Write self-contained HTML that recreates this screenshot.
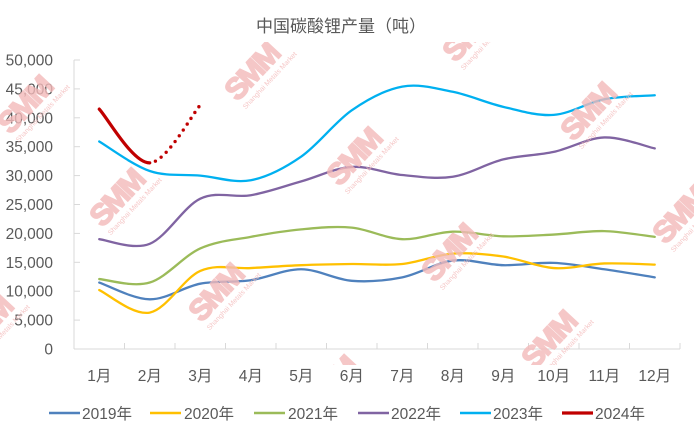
<!DOCTYPE html>
<html><head><meta charset="utf-8">
<style>
html,body{margin:0;padding:0;background:#fff;}
svg{display:block;}
text{font-family:"Liberation Sans","Noto Sans CJK SC",sans-serif;}
</style></head><body>
<svg id="c" width="694" height="433" viewBox="0 0 694 433" xmlns="http://www.w3.org/2000/svg">
<defs><clipPath id="wm"><rect x="0" y="42" width="694" height="323"/></clipPath></defs>
<rect width="694" height="433" fill="#fff"/>
<text x="341" y="32" font-size="17" fill="#595959" text-anchor="middle">中国碳酸锂产量（吨）</text>
<g id="axes" stroke="#D9D9D9" stroke-width="1" fill="none"></g>
<g id="ylab" font-size="15.5" fill="#595959" text-anchor="end"></g>
<g id="xlab" font-size="15.5" fill="#595959" text-anchor="middle"></g>
<g id="series" fill="none" stroke-linecap="round" stroke-linejoin="round"></g>
<g id="wmk" clip-path="url(#wm)" opacity="0.8"></g>
<g id="legend" font-size="15.5" fill="#595959"></g>
</svg>
<script>
(function(){
var NS="http://www.w3.org/2000/svg";
function el(tag,attrs,parent,txt){var e=document.createElementNS(NS,tag);for(var k in attrs)e.setAttribute(k,attrs[k]);if(txt!==undefined)e.textContent=txt;parent.appendChild(e);return e;}
var axes=document.getElementById('axes'),ylab=document.getElementById('ylab'),xlab=document.getElementById('xlab'),series=document.getElementById('series'),wmk=document.getElementById('wmk'),legend=document.getElementById('legend');
var X0=74,W=50.5,Y0=349,K=5.78;
function Y(v){return Y0-v*K;}
el('line',{x1:X0,y1:60,x2:X0,y2:Y0},axes);
el('line',{x1:X0,y1:Y0,x2:X0+12*W,y2:Y0},axes);
for(var i=0;i<=10;i++){var y=Y(i*5);el('line',{x1:X0,y1:y,x2:X0+6,y2:y},axes);
 var lab=(i*5000).toLocaleString('en-US');el('text',{x:53,y:(y+5.5).toFixed(1)},ylab,lab);}
for(var i=1;i<=12;i++){var x=X0+i*W;el('line',{x1:x,y1:Y0,x2:x,y2:Y0-6},axes);}
for(var i=0;i<12;i++){el('text',{x:(X0+W*(i+0.5)).toFixed(1),y:381},xlab,(i+1)+'月');}
var data=[
 ['#4F81BD',[11.5,8.6,11.3,11.9,13.8,11.8,12.4,15.3,14.5,14.9,13.8,12.4]],
 ['#FFC000',[10.2,6.3,13.5,14.0,14.5,14.7,14.7,16.5,16.0,14.0,14.8,14.6]],
 ['#9BBB59',[12.1,11.5,17.4,19.4,20.7,21.0,19.0,20.3,19.5,19.8,20.4,19.4]],
 ['#8064A2',[19.0,18.2,26.0,26.6,29.0,31.5,30.1,29.8,32.8,34.1,36.6,34.7]],
 ['#00B0F0',[35.9,30.8,30.0,29.2,33.3,41.3,45.4,44.5,41.9,40.5,43.2,43.9]]
];
function pts(a){return a.map(function(v,i){return [X0+W*(i+0.5),Y(v)];});}
function f(p){return p[0].toFixed(2)+','+p[1].toFixed(2);}
function seg(p,i){var p0=p[Math.max(i-1,0)],p1=p[i],p2=p[i+1],p3=p[Math.min(i+2,p.length-1)],t=1/6;
 var c1=[p1[0]+(p2[0]-p0[0])*t,p1[1]+(p2[1]-p0[1])*t],c2=[p2[0]-(p3[0]-p1[0])*t,p2[1]-(p3[1]-p1[1])*t];
 return ' C'+f(c1)+' '+f(c2)+' '+f(p2);}
function path(p,from,to){var d='M'+f(p[from]);for(var i=from;i<to;i++)d+=seg(p,i);return d;}
data.forEach(function(s){var p=pts(s[1]);el('path',{d:path(p,0,p.length-1),stroke:s[0],'stroke-width':2.3},series);});
var r=pts([41.5,32.2,42.2]);
el('path',{d:path(r,0,1),stroke:'#C00000','stroke-width':3.2},series);
el('path',{d:path(r,1,2),stroke:'#C00000','stroke-width':3.4,'stroke-dasharray':'0 7','stroke-dashoffset':'-6'},series);
var wms=[[252,72],[470,33],[25,105],[117,198],[354,157],[588,112],[680,215],[449,253],[216,293],[549,340],[330,385],[-15,325]];
var wc='#F3B9B9';
wms.forEach(function(c){var g=el('g',{transform:'translate('+c[0]+','+c[1]+') rotate(-47)'},wmk);
 el('text',{x:0,y:10,'font-size':30,'font-weight':'bold','text-anchor':'middle',fill:wc,stroke:wc,'stroke-width':1.6,'letter-spacing':'-2'},g,'SMM');
 el('text',{x:6,y:21,'font-size':7,'text-anchor':'middle',fill:wc},g,'Shanghai Metals Market');});
var lg=[['#4F81BD',49,82,'2019年'],['#FFC000',150,184,'2020年'],['#9BBB59',254,288,'2021年'],['#8064A2',358,391,'2022年'],['#00B0F0',460,493,'2023年'],['#C00000',562,595,'2024年']];
lg.forEach(function(l){el('line',{x1:l[1],y1:413,x2:l[1]+31,y2:413,stroke:l[0],'stroke-width':l[0]=='#C00000'?3.2:2.5},legend);
 el('text',{x:l[2],y:419},legend,l[3]);});
})();
</script>
</body></html>
